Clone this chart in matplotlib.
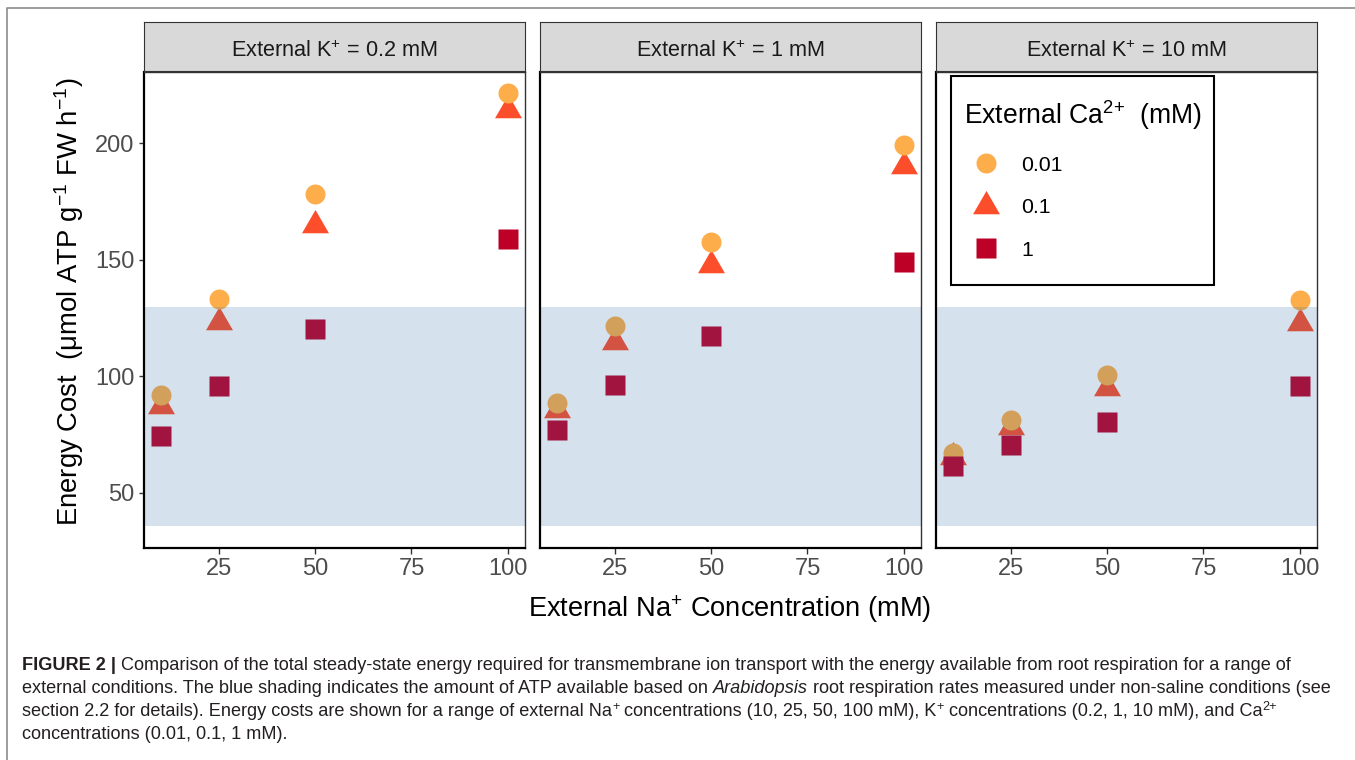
import matplotlib
matplotlib.use('Agg')
import matplotlib.pyplot as plt
from matplotlib import font_manager
from matplotlib.path import Path
from matplotlib.lines import Line2D
from matplotlib.patches import Rectangle

# ---- data ----
na_conc = [10, 25, 50, 100]
k_labels = ['0.2', '1', '10']
ca_labels = ['0.01', '0.1', '1']

# energy cost per panel (K+ = 0.2, 1, 10 mM), one list per Ca2+ level
ca001_k02 = [92.0, 133.2, 178.1, 221.7]
ca01_k02 = [87.2, 123.5, 164.9, 214.4]
ca1_k02 = [74.4, 96.1, 120.3, 159.1]

ca001_k1 = [88.7, 121.7, 157.6, 199.4]
ca01_k1 = [85.4, 114.8, 147.8, 190.2]
ca1_k1 = [77.0, 96.3, 117.2, 148.9]

ca001_k10 = [67.1, 81.3, 100.6, 133.0]
ca01_k10 = [65.4, 78.5, 95.0, 122.9]
ca1_k10 = [61.7, 70.6, 80.6, 95.9]

atp_low, atp_high = 36, 130   # blue band: ATP available

panels = [
    [ca001_k02, ca01_k02, ca1_k02],
    [ca001_k1, ca01_k1, ca1_k1],
    [ca001_k10, ca01_k10, ca1_k10],
]

# ---- style ----
plt.rcParams['font.family'] = ['Liberation Sans', 'DejaVu Sans']
plt.rcParams['mathtext.fontset'] = 'custom'
plt.rcParams['mathtext.rm'] = 'Liberation Sans'
plt.rcParams['mathtext.it'] = 'Liberation Sans:italic'
plt.rcParams['mathtext.bf'] = 'Liberation Sans:bold'

colors = ['#FDAE4B', '#FC4E2A', '#BD0026']
tri = Path([(0, 1), (-0.866, -0.5), (0.866, -0.5), (0, 1)],
           [Path.MOVETO, Path.LINETO, Path.LINETO, Path.CLOSEPOLY])
markers = ['o', tri, 's']
msizes = [14.4, 22.4, 14.4]
zorders = [3, 2, 4]

W, H = 1355, 760
fig = plt.figure(figsize=(W / 100, H / 100), dpi=100)

def fx(px):
    return px / W

def fy(py):
    return 1 - py / H

panel_left = [144, 540, 936]
panel_w = 381
top, bottom = 72, 548
panel_h = bottom - top
strip_top = 22

for i, series in enumerate(panels):
    ax = fig.add_axes([fx(panel_left[i]), fy(bottom), panel_w / W, panel_h / H])
    for j, vals in enumerate(series):
        ax.plot(na_conc, vals, linestyle='none', marker=markers[j], ms=msizes[j],
                color=colors[j], mec='none', zorder=zorders[j], clip_on=False)
    ax.axhspan(atp_low, atp_high, color=(45 / 255, 105 / 255, 165 / 255), alpha=0.2, lw=0, zorder=5)
    ax.set_xlim(5.5, 104.5)
    ax.set_ylim(26.4, 230.6)
    ax.set_xticks([25, 50, 75, 100])
    ax.set_yticks([50, 100, 150, 200])
    ax.tick_params(length=5.5 * 0.72, width=1, color='#333333', labelsize=17,
                   labelcolor='#4D4D4D', pad=3)
    ax.tick_params(axis='x', pad=3.5)
    if i > 0:
        ax.tick_params(axis='y', left=False, labelleft=False)
    for s in ['left', 'bottom']:
        ax.spines[s].set_linewidth(1.6)
        ax.spines[s].set_color('black')
    for s in ['top', 'right']:
        ax.spines[s].set_linewidth(1.0)
        ax.spines[s].set_color('#333333')
    for s in ax.spines.values():
        s.set_zorder(6)

    # facet strip
    sax = fig.add_axes([fx(panel_left[i]), fy(top - 1), panel_w / W, (top - 1 - strip_top) / H])
    sax.set_facecolor('#D9D9D9')
    sax.set_xticks([])
    sax.set_yticks([])
    for s in sax.spines.values():
        s.set_color('#333333')
        s.set_linewidth(0.8)
    sax.text(0.5, 14 / 49, 'External K$^{+}$ = %s mM' % k_labels[i], ha='center', va='baseline',
             fontsize=15.6, color='#1A1A1A', transform=sax.transAxes)

    if i == 2:
        # legend frame
        ax.add_patch(Rectangle((15 / panel_w, 1 - 213 / panel_h), 263 / panel_w, 209 / panel_h,
                               transform=ax.transAxes, facecolor='white', edgecolor='black',
                               lw=1.5, zorder=9, clip_on=False))
        handles = [Line2D([], [], linestyle='none', marker=markers[j], ms=msizes[j],
                          color=colors[j], mec='none') for j in range(3)]
        leg = ax.legend(handles, ca_labels, title='External Ca$^{2{+}}$  (mM)',
                        loc='upper left',
                        bbox_to_anchor=(27.7 / panel_w, 1 - 26.7 / panel_h),
                        borderaxespad=0, fontsize=15.3, title_fontsize=19.1, frameon=False,
                        borderpad=0, labelspacing=1.1, handlelength=2.1, handletextpad=0.6)
        leg.set_zorder(10)
        leg._legend_box.align = 'left'

fig.text(fx(78), fy(302), 'Energy Cost  (μmol ATP g$^{-1}$ FW h$^{-1}$)', rotation=90,
         rotation_mode='anchor', ha='center', va='baseline', fontsize=19.8)
fig.text(fx(730), fy(617), 'External Na$^{+}$ Concentration (mM)', ha='center', va='baseline',
         fontsize=19.6)

# outer frame (left and top edges visible)
fig.add_artist(Line2D([fx(7), fx(7), fx(1360)], [fy(770), fy(8), fy(8)], color='#8C8C8C', lw=1.2))

# ---- caption ----
names = {f.name for f in font_manager.fontManager.ttflist}
cap_font = 'Liberation Sans Narrow' if 'Liberation Sans Narrow' in names else 'Liberation Sans'
cap_color = '#231F20'

renderer = fig.canvas.get_renderer()

def text_width(s, size, weight='normal', style='normal'):
    t = fig.text(0, 0, s, fontsize=size, family=cap_font, weight=weight, style=style)
    w = t.get_window_extent(renderer).width
    t.remove()
    return w

def draw_line(pieces, x, y, size):
    sp = text_width('a a', size) - text_width('aa', size)
    for txt, kind in pieces:
        weight = 'bold' if kind == 'bold' else 'normal'
        style = 'italic' if kind == 'italic' else 'normal'
        s = size * 0.7 if kind == 'sup' else size
        yy = y - size * 0.45 if kind == 'sup' else y
        lead = len(txt) - len(txt.lstrip(' '))
        trail = len(txt) - len(txt.rstrip(' '))
        core = txt.strip(' ')
        x += lead * sp
        if core:
            t = fig.text(fx(x), fy(yy), core, fontsize=s, family=cap_font, weight=weight,
                         style=style, color=cap_color, ha='left', va='baseline')
            x += t.get_window_extent(renderer).width
        x += trail * sp

cap_lines = [
    [('FIGURE 2 |', 'bold'),
     (' Comparison of the total steady-state energy required for transmembrane ion transport '
      'with the energy available from root respiration for a range of', 'normal')],
    [('external conditions. The blue shading indicates the amount of ATP available based on ', 'normal'),
     ('Arabidopsis', 'italic'),
     (' root respiration rates measured under non-saline conditions (see', 'normal')],
    [('section 2.2 for details). Energy costs are shown for a range of external Na', 'normal'),
     ('+', 'sup'), (' concentrations (10, 25, 50, 100 mM), K', 'normal'), ('+', 'sup'),
     (' concentrations (0.2, 1, 10 mM), and Ca', 'normal'), ('2+', 'sup')],
    [('concentrations (0.01, 0.1, 1 mM).', 'normal')],
]

# size the caption so its first line spans the same width as in the figure
base = 13.4
w1 = text_width('FIGURE 2 |', base, weight='bold') + text_width(cap_lines[0][1][0], base)
cap_size = base * 1270 / w1
for k, line in enumerate(cap_lines):
    draw_line(line, 22, 670 + 23 * k, cap_size)

fig.savefig('out.png', dpi=100)
